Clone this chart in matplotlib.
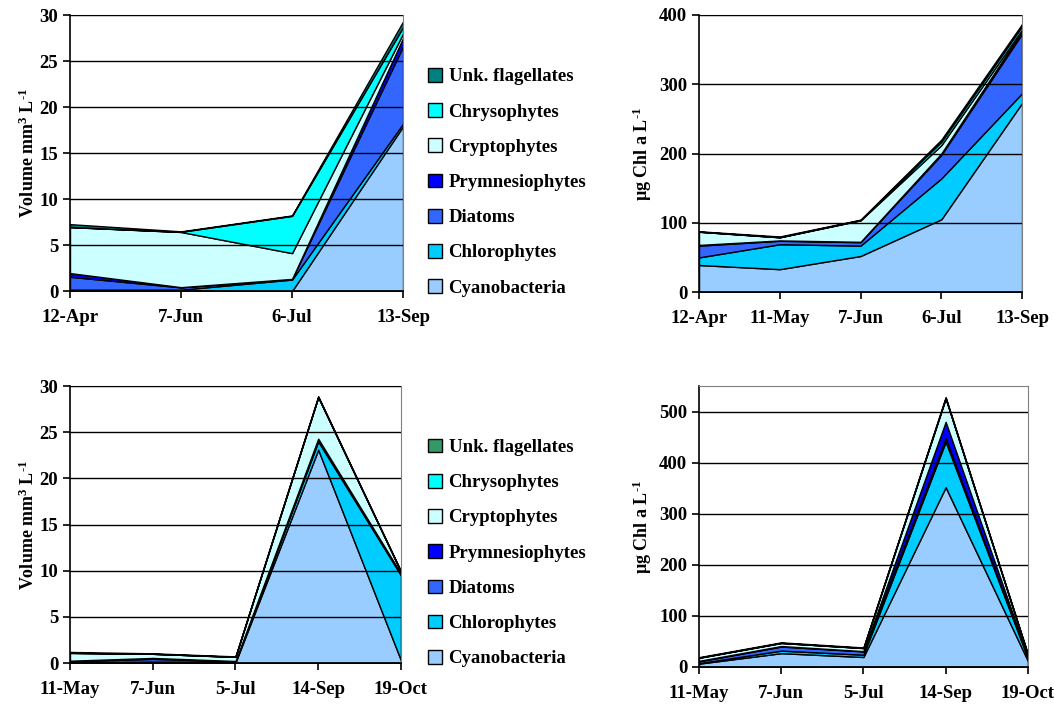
import numpy as np
import matplotlib
matplotlib.use("Agg")
import matplotlib.pyplot as plt
from matplotlib.patches import Patch

plt.rcParams['font.family'] = ['Liberation Serif', 'DejaVu Serif']
plt.rcParams['font.weight'] = 'bold'
plt.rcParams['mathtext.default'] = 'regular'

groups = ['Cyanobacteria', 'Chlorophytes', 'Diatoms', 'Prymnesiophytes',
          'Cryptophytes', 'Chrysophytes', 'Unk. flagellates']
colors_top = ['#99CCFF', '#00CCFF', '#3366FF', '#0000FF', '#CCFFFF', '#00FFFF', '#008080']
colors_bot = ['#99CCFF', '#00CCFF', '#3366FF', '#0000FF', '#CCFFFF', '#00FFFF', '#339966']

# top row
dates_a = ['12-Apr', '7-Jun', '6-Jul', '13-Sep']
vol_a = {
    'Cyanobacteria':    [0.1, 0.05, 0.0, 17.9],
    'Chlorophytes':     [0.05, 0.1, 1.25, 0.3],
    'Diatoms':          [1.4, 0.25, 0.05, 8.4],
    'Prymnesiophytes':  [0.4, 0.02, 0.02, 0.9],
    'Cryptophytes':     [5.0, 6.0, 2.8, 0.5],
    'Chrysophytes':     [0.02, 0.02, 4.05, 0.7],
    'Unk. flagellates': [0.3, 0.05, 0.05, 0.6],
}
dates_b = ['12-Apr', '11-May', '7-Jun', '6-Jul', '13-Sep']
chl_b = {
    'Cyanobacteria':    [39, 33, 52, 105, 273],
    'Chlorophytes':     [11, 36, 15, 59, 14],
    'Diatoms':          [17, 5, 5, 34, 86],
    'Prymnesiophytes':  [1, 0.5, 0.5, 2, 4],
    'Cryptophytes':     [19, 4.5, 31, 12, 2],
    'Chrysophytes':     [0.2, 0.2, 0.5, 5, 5],
    'Unk. flagellates': [0.5, 1, 0.5, 3, 3],
}

# bottom row
dates_c = ['11-May', '7-Jun', '5-Jul', '14-Sep', '19-Oct']
vol_c = {
    'Cyanobacteria':    [0.05, 0.05, 0.05, 23.1, 0.3],
    'Chlorophytes':     [0.05, 0.1, 0.1, 0.9, 9.2],
    'Diatoms':          [0.1, 0.3, 0.05, 0.15, 0.1],
    'Prymnesiophytes':  [0.05, 0.1, 0.02, 0.15, 0.1],
    'Cryptophytes':     [0.85, 0.45, 0.45, 4.5, 0.2],
    'Chrysophytes':     [0.0, 0.0, 0.0, 0.0, 0.0],
    'Unk. flagellates': [0.1, 0.05, 0.05, 0.1, 0.05],
}
dates_d = ['11-May', '7-Jun', '5-Jul', '14-Sep', '19-Oct']
chl_d = {
    'Cyanobacteria':    [6.5, 27, 19.5, 352, 12],
    'Chlorophytes':     [1, 5, 4.5, 89, 5],
    'Diatoms':          [3.5, 8, 6.5, 7, 2],
    'Prymnesiophytes':  [1, 1, 0.5, 32, 1],
    'Cryptophytes':     [6, 6, 6, 46, 4],
    'Chrysophytes':     [0.2, 0.2, 0.2, 0.5, 0.2],
    'Unk. flagellates': [1, 1, 1, 2, 1],
}

fig = plt.figure(figsize=(10.54, 7.04), dpi=100)


def panel(rect, dates, data, cols, ymax, yticks, ylabel, lpad):
    ax = fig.add_axes(rect)
    x = np.arange(len(dates))
    ax.stackplot(x, [data[g] for g in groups], colors=cols,
                 edgecolor='black', linewidth=1.0)
    ax.set_xlim(0, len(dates) - 1)
    ax.set_ylim(0, ymax)
    ax.set_yticks(yticks)
    ax.set_xticks(x)
    ax.set_xticklabels(dates)
    ax.grid(axis='y', color='black', linewidth=1.0)
    ax.set_axisbelow(False)
    for s in ['top', 'right']:
        ax.spines[s].set_color('#808080')
        ax.spines[s].set_linewidth(0.8)
    for s in ['left', 'bottom']:
        ax.spines[s].set_linewidth(1.2)
    ax.tick_params(direction='out', length=5, width=1.2, labelsize=13.5)
    ax.tick_params(axis='x', pad=8)
    ax.set_ylabel(ylabel, fontsize=13, fontweight='bold', labelpad=lpad)
    return ax


vol_label = 'Volume mm$^{3}$ L$^{\u20101}$'
chl_label = 'µg Chl a L$^{\u20101}$'
panel([0.0664, 0.5866, 0.316, 0.392], dates_a, vol_a, colors_top,
      30, range(0, 31, 5), vol_label, 1)
panel([0.6632, 0.5852, 0.3065, 0.3935], dates_b, chl_b, colors_top,
      400, range(0, 401, 100), chl_label, 4)
panel([0.0664, 0.0582, 0.314, 0.3935], dates_c, vol_c, colors_bot,
      30, range(0, 31, 5), vol_label, 1)
panel([0.6632, 0.0526, 0.312, 0.399], dates_d, chl_d, colors_bot,
      550, range(0, 501, 100), chl_label, 4)

for cols, yc in [(colors_top, 0.741), (colors_bot, 0.2145)]:
    handles = [Patch(facecolor=c, edgecolor='black', linewidth=1.0, label=g)
               for g, c in zip(groups, cols)][::-1]
    fig.legend(handles=handles, loc='center left', bbox_to_anchor=(0.390, yc),
               frameon=False, fontsize=13.5, handlelength=0.75, handleheight=0.75,
               handletextpad=0.35, labelspacing=0.95)

fig.savefig('out.png', dpi=100)
